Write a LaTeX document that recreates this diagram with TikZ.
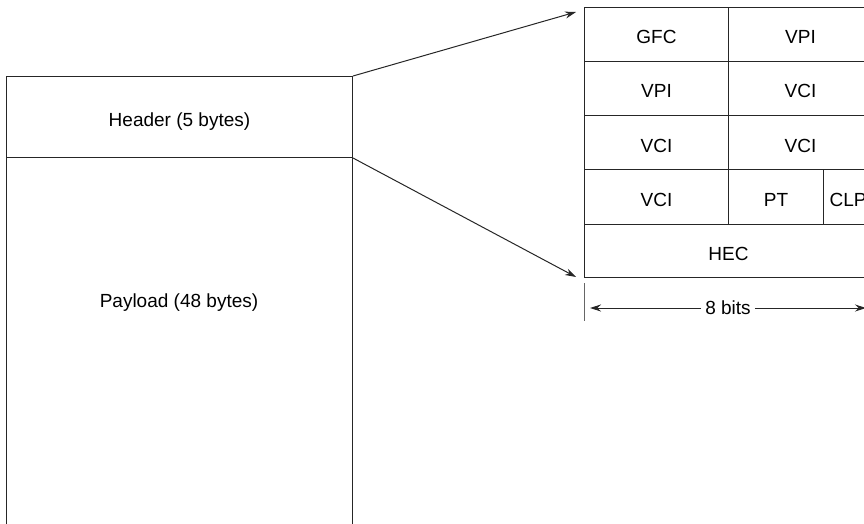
\documentclass[tikz,border=0pt]{standalone}
\usepackage{fontspec}
\setmainfont{Liberation Sans}
\usetikzlibrary{arrows.meta}
\begin{document}
\begin{tikzpicture}[x=1pt,y=-1pt,
  ln/.style={draw=black!85,line width=1pt},
  cell/.style={ln,rectangle,inner sep=0pt,anchor=north west,text height=19pt,text depth=0pt,font=\fontsize{19}{21}\selectfont},
  lbl/.style={inner sep=1pt,font=\fontsize{19}{21}\selectfont},
  arr/.style={ln,-{Stealth[length=11pt,width=7pt]}}]
\useasboundingbox (0,0) rectangle (864,524);
\clip (0,0) rectangle (864,524);
% left cell
\node[cell,minimum width=346pt,minimum height=81pt] (head) at (6,76) {Header (5 bytes)};
\node[cell,minimum width=346pt,minimum height=420pt] (pay) at (6,157) {};
\node[lbl] (paytext) at (179,303) {Payload (48 bytes)};
% header table
\node[cell,minimum width=144pt,minimum height=54pt] (gfc) at (584,7) {GFC};
\node[cell,minimum width=144pt,minimum height=54pt] (vpi1) at (728,7) {VPI};
\node[cell,minimum width=144pt,minimum height=54pt] (vpi2) at (584,61) {VPI};
\node[cell,minimum width=144pt,minimum height=54pt] (vci1) at (728,61) {VCI};
\node[cell,minimum width=144pt,minimum height=54pt] (vci2) at (584,115) {VCI};
\node[cell,minimum width=144pt,minimum height=54pt] (vci3) at (728,115) {VCI};
\node[cell,minimum width=144pt,minimum height=55pt] (vci4) at (584,169) {VCI};
\node[cell,minimum width=95pt,minimum height=55pt] (pt) at (728,169) {PT};
\node[cell,minimum width=49pt,minimum height=55pt] (clp) at (823,169) {CLP};
\node[cell,minimum width=288pt,minimum height=53pt] (hec) at (584,224) {HEC};
% expansion arrows
\coordinate (t1) at (576,12);
\coordinate (t2) at (576,277);
\draw[arr] (head.north east) -- (t1);
\draw[arr] (head.south east) -- (t2);
% 8 bits
\coordinate (tk1) at (584,283);
\coordinate (tk2) at (584,321);
\draw[ln,draw=black!60] (tk1) -- (tk2);
\node[lbl,fill=white,inner xsep=4pt] (bits) at (728,308) {8 bits};
\coordinate (bl) at (590,308);
\coordinate (br) at (866,308);
\draw[arr] (bits.west) -- (bl);
\draw[arr] (bits.east) -- (br);
\end{tikzpicture}
\end{document}
